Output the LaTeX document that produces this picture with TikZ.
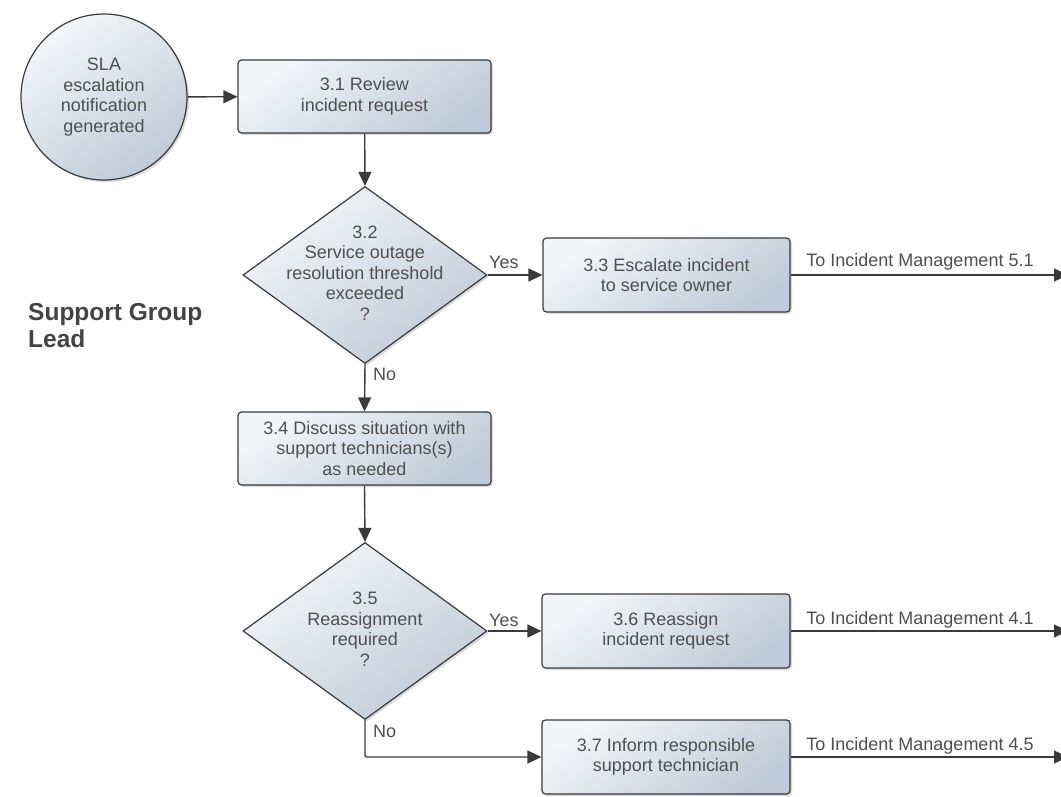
\documentclass[tikz,border=0pt]{standalone}
\usepackage{fontspec}
\setmainfont{Liberation Sans}
\usetikzlibrary{shapes.geometric,arrows.meta,shadows}

\definecolor{edge}{HTML}{3A3A3A}
\definecolor{ink}{HTML}{4F4F4F}
\definecolor{fillA}{HTML}{F3F6F9}
\definecolor{fillB}{HTML}{BFCBD8}

\newcommand{\boxfont}{\fontsize{18}{20.5}\selectfont}
\newcommand{\lanefont}{\fontsize{24.5}{27}\selectfont\bfseries}

\tikzset{
  x=1pt, y=-1pt,
  shapebase/.style={draw=edge, line width=1.2pt,
    top color=fillA, bottom color=fillB, shading angle=35,
    drop shadow={shadow xshift=2pt, shadow yshift=-2pt, fill=black, opacity=0.15}},
  task/.style={shapebase, rectangle, rounded corners=3.5pt, align=center,
    text=ink, font=\boxfont, inner sep=0pt, minimum width=250pt, minimum height=74pt},
  startev/.style={shapebase, circle, align=center, text=ink, font=\boxfont,
    inner sep=0pt, minimum size=166pt},
  decision/.style={shapebase, diamond, inner sep=0pt, minimum width=244pt, minimum height=177pt},
  txt/.style={align=center, text=ink, font=\boxfont, inner sep=0pt},
  lbl/.style={text=ink, font=\boxfont, inner sep=0pt},
  flow/.style={draw=edge, line width=1.4pt, -{Triangle[length=14pt,width=13pt]}}
}

\begin{document}
\begin{tikzpicture}
\useasboundingbox (0,0) rectangle (1061,797);

% lane title
\node[anchor=west, text=ink!85!black, font=\lanefont, align=left, inner sep=0pt] (lane) at (28,326) {Support Group\\Lead};

% shapes
\node[startev] (c) at (104,97) {SLA\\escalation\\notification\\generated};
\node[task, minimum width=253pt, minimum height=73pt] (b31) at (364.5,96.5) {3.1 Review\\incident request};

\node[decision] (d32) at (365,275) {};
\node[txt] (t32) at (365,273) {3.2\\Service outage\\resolution threshold\\exceeded\\?};

\node[task, minimum width=247pt] (b33) at (666.5,275) {3.3 Escalate incident\\to service owner};

\node[task, minimum width=253pt, minimum height=73pt] (b34) at (364.5,448.5) {3.4 Discuss situation with\\support technicians(s)\\as needed};

\node[decision] (d35) at (365,631) {};
\node[txt] (t35) at (365,629) {3.5\\Reassignment\\required\\?};

\node[task, minimum width=248pt] (b36) at (666,631) {3.6 Reassign\\incident request};
\node[task, minimum width=248pt] (b37) at (666,757) {3.7 Inform responsible\\support technician};

% off-page ends (the tips run past the page edge)
\coordinate (o1) at (1068,275);
\coordinate (o2) at (1068,631);
\coordinate (o3) at (1068,757);

% connectors
\draw[flow] (c) -- (b31);
\draw[flow] (b31) -- (d32.north);
\draw[flow] (d32.east) -- (b33.west);
\draw[flow] (b33.east) -- (o1);
\draw[flow] (d32.south) -- (b34.north);
\draw[flow] (b34.south) -- (d35.north);
\draw[flow] (d35.east) -- (b36.west);
\draw[flow] (b36.east) -- (o2);
\draw[flow, rounded corners=2pt] (d35.south) |- (b37.west);
\draw[flow] (b37.east) -- (o3);

% connector labels
\node[lbl, anchor=west] (y1) at (489,262) {Yes};
\node[lbl, anchor=west] (n1) at (373,374) {No};
\node[lbl, anchor=west] (y2) at (489,620) {Yes};
\node[lbl, anchor=west] (n2) at (373,731) {No};
\node[lbl] (e1) at (920,262) {To Incident Management 5.1};
\node[lbl] (e2) at (920,620) {To Incident Management 4.1};
\node[lbl] (e3) at (920,746) {To Incident Management 4.5};
\end{tikzpicture}
\end{document}
